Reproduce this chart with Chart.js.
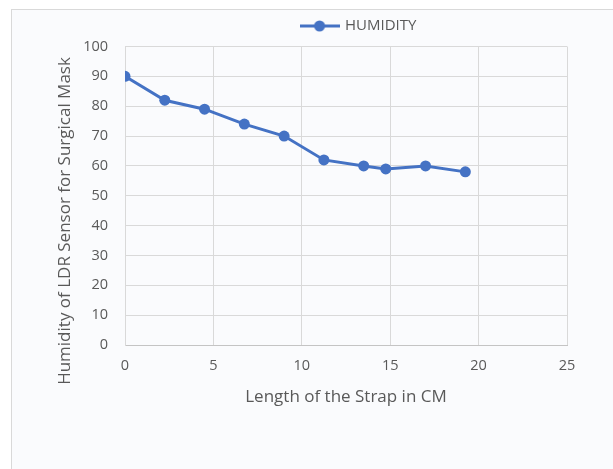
<!DOCTYPE html>
<html lang="en">
<head>
  <meta charset="UTF-8" />
  <title>Humidity vs Strap Length</title>
  <script src="https://cdn.jsdelivr.net/npm/chart.js"></script>
  <style>
    html, body { margin: 0; padding: 0; background: #ffffff; }
    body { width: 613px; height: 469px; position: relative; overflow: hidden; }
    /* light panel behind the chart, like the pasted Excel chart */
    .frame {
      position: absolute; left: 11px; top: 9px; width: 620px; height: 480px;
      border-top: 1px solid #d9d9d9; border-left: 1px solid #d9d9d9;
      background: #fafbfd;
    }
    #chart { position: absolute; left: 0; top: 0; }
  </style>
</head>
<body>
  <div class="frame"></div>
  <canvas id="chart" width="613" height="469"></canvas>

  <script>
    // data
    const strapLength = [0, 2.25, 4.5, 6.75, 9, 11.25, 13.5, 14.75, 17, 19.25];
    const humidity    = [90, 82, 79, 74, 70, 62, 60, 59, 60, 58];
    const xTicks = [0, 5, 10, 15, 20, 25];
    const yTicks = [0, 10, 20, 30, 40, 50, 60, 70, 80, 90, 100];

    const blue = '#4472C4';
    const textGray = '#595959';
    const font = "'Open Sans', sans-serif";

    // legend glyph: short line with a dot in the middle
    const legendMark = document.createElement('canvas');
    legendMark.width = 40;
    legendMark.height = 12;
    const g = legendMark.getContext('2d');
    g.strokeStyle = blue;
    g.lineWidth = 3;
    g.beginPath(); g.moveTo(0, 6); g.lineTo(40, 6); g.stroke();
    g.fillStyle = blue;
    g.beginPath(); g.arc(20, 6, 5.5, 0, Math.PI * 2); g.fill();

    // extra room under the legend + nudge it right like the original
    const legendTweak = {
      id: 'legendTweak',
      afterInit(chart) {
        const fit = chart.legend.fit;
        chart.legend.fit = function () {
          fit.call(this);
          this.height += 3;
        };
      },
      afterLayout(chart) {
        chart.legend.left += 13;
        chart.legend.right += 13;
      }
    };

    // y title sits a bit lower than the axis centre in the original
    const yTitle = {
      id: 'yTitle',
      afterDraw(chart) {
        const ctx = chart.ctx;
        ctx.save();
        ctx.translate(65, 221);
        ctx.rotate(-Math.PI / 2);
        ctx.font = '17px ' + font;
        ctx.fillStyle = textGray;
        ctx.textAlign = 'center';
        ctx.textBaseline = 'middle';
        ctx.fillText('Humidity of LDR Sensor for Surgical Mask', 0, 0);
        ctx.restore();
      }
    };

    new Chart(document.getElementById('chart'), {
      type: 'line',
      data: {
        datasets: [{
          label: 'HUMIDITY',
          data: strapLength.map((x, i) => ({ x, y: humidity[i] })),
          borderColor: blue,
          backgroundColor: blue,
          borderWidth: 3,
          pointRadius: 5.5,
          pointBorderWidth: 0,
          pointBackgroundColor: blue,
          tension: 0,
          fill: false
        }]
      },
      options: {
        responsive: false,
        animation: false,
        layout: { padding: { left: 0, right: 46, top: 8.5, bottom: 62 } },
        plugins: {
          legend: {
            position: 'top',
            fullSize: false,
            labels: {
              usePointStyle: true,
              pointStyleWidth: 36,
              padding: 10,
              color: textGray,
              font: { family: font, size: 15 },
              generateLabels(chart) {
                const items = Chart.defaults.plugins.legend.labels.generateLabels(chart);
                items.forEach(it => { it.pointStyle = legendMark; });
                return items;
              }
            }
          },
          tooltip: { enabled: false }
        },
        scales: {
          x: {
            type: 'linear',
            min: 0, max: 25,
            afterBuildTicks: s => { s.ticks = xTicks.map(v => ({ value: v })); },
            afterFit: s => { s.height = 62; },
            grid: { color: '#d9d9d9', drawTicks: false },
            border: { color: '#c4c4c4' },
            ticks: { color: textGray, padding: 12, font: { family: font, size: 14.5 } },
            title: {
              display: true,
              text: 'Length of the Strap in CM',
              color: textGray,
              padding: { top: 0, bottom: 0 },
              font: { family: font, size: 17 }
            }
          },
          y: {
            type: 'linear',
            min: 0, max: 100,
            afterBuildTicks: s => { s.ticks = yTicks.map(v => ({ value: v })); },
            afterFit: s => { s.width = 125; },
            grid: { color: '#d9d9d9', drawTicks: false },
            border: { color: '#d9d9d9' },
            ticks: { color: textGray, padding: 17, font: { family: font, size: 14.5 } }
          }
        }
      },
      plugins: [legendTweak, yTitle]
    });
  </script>
</body>
</html>
